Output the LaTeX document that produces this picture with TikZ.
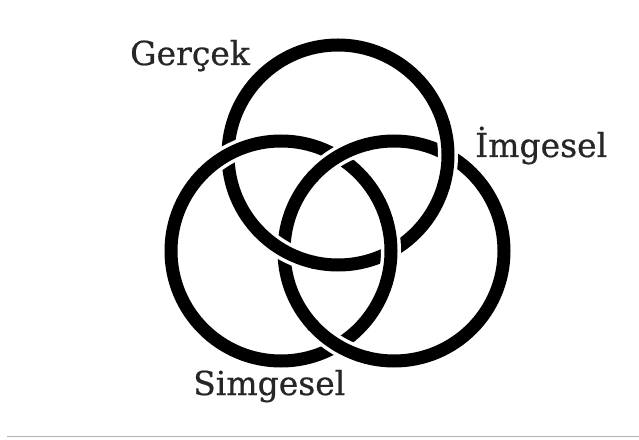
\documentclass[tikz,border=0pt]{standalone}
\usepackage{fontspec}
\setmainfont{DejaVu Serif}
\newfontfamily\lblfont[FakeBold=0.6]{DejaVu Serif}
\usetikzlibrary{calc}
\begin{document}
\begin{tikzpicture}[x=1pt,y=1pt,
  ring/.style={circle, draw=black, line width=13pt, minimum size=220pt, inner sep=0pt},
  label/.style={font=\lblfont\fontsize{33}{36}\selectfont, text=black!85, inner sep=0pt, anchor=base west},
  gapw/.style={white, line width=20pt},
  overb/.style={black, line width=13pt}]
\useasboundingbox (0,0) rectangle (639,439);
\fill[white] (0,0) rectangle (639,439);
\node[ring] (T) at (338,284) {};
\node[ring] (L) at (281,188) {};
\node[ring] (R) at (394,188) {};
% over-crossings: L over T, T over R, R over L
\foreach \c/\a in {L/118.8, L/0, T/0, T/240.6, R/120.9, R/239.1}{
  \draw[gapw] ($(\c.center)+(\a-16:110pt)$) arc[start angle=\a-16, end angle=\a+16, radius=110pt];
  \draw[overb] ($(\c.center)+(\a-17:110pt)$) arc[start angle=\a-17, end angle=\a+17, radius=110pt];
}
\node[label] (g) at (130,374) {Gerçek};
\node[label] (i) at (475,282) {İmgesel};
\node[label] (s) at (193,44) {Simgesel};
\coordinate (b1) at (7,2.5);
\coordinate (b2) at (639,2.5);
\draw[black!30, line width=1.5pt] (b1) -- (b2);
\end{tikzpicture}
\end{document}
